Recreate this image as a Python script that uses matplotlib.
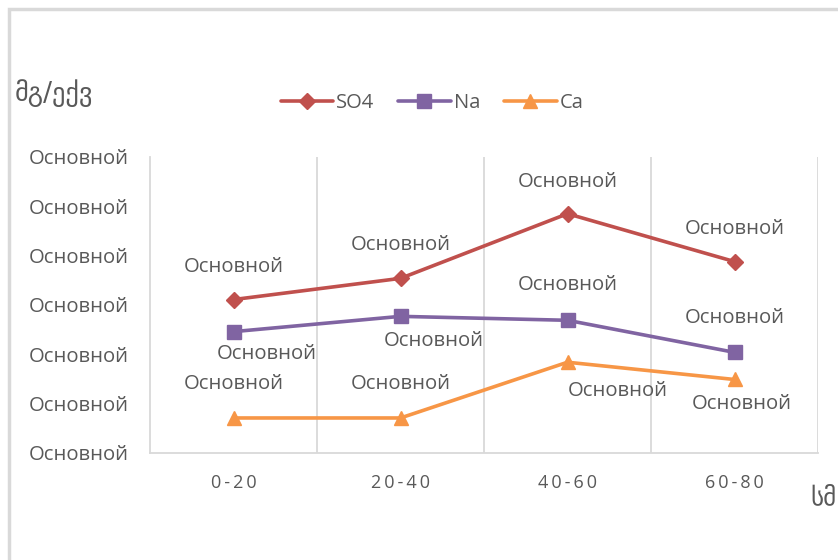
import matplotlib
matplotlib.use("Agg")
import matplotlib.pyplot as plt
from matplotlib.patches import Rectangle
from matplotlib.ticker import FuncFormatter

plt.rcParams['font.family'] = ['Open Sans', 'DejaVu Sans']

depths = ['0-20', '20-40', '40-60', '60-80']
so4 = [3.11, 3.54, 4.85, 3.88]
na = [2.46, 2.77, 2.69, 2.04]
ca = [0.71, 0.71, 1.84, 1.49]
tick_text = 'Основной'

# label offsets in pixels (dx, dy) for each point
so4_off = [(0, 33), (0, 33), (0, 32), (0, 33)]
na_off = [(33, -22), (33, -25), (0, 35), (0, 34)]
ca_off = [(0, 34), (0, 34), (50, -29), (7, -25)]

grey = '#595959'
grid = '#D9D9D9'

fig = plt.figure(figsize=(8.38, 5.6), dpi=100)
fig.patches.append(Rectangle((9/838, -0.1), 1.2, 1.1 - 9/560,
                             transform=fig.transFigure, fill=False,
                             edgecolor='#D9D9D9', lw=2.5))
ax = fig.add_axes([150/838, 1-453/560, 668/838, 296/560])

x = [i + 0.5 for i in range(len(depths))]
series = [
    ('SO4', so4, '#C0504D', 'D', 8, so4_off),
    ('Na', na, '#8064A2', 's', 10, na_off),
    ('Ca', ca, '#F79646', '^', 10, ca_off),
]
for name, vals, col, mk, ms, offs in series:
    ax.plot(x, vals, color=col, lw=2.6, marker=mk, markersize=ms, label=name,
            solid_capstyle='round')
    for xi, v, (dx, dy) in zip(x, vals, offs):
        ax.annotate(tick_text, (xi, v), xytext=(dx, dy), textcoords='offset pixels',
                    ha='center', va='center', fontsize=14.6, color=grey)

# spaced-out category labels
spaced = ['\u2009'.join(d) for d in depths]

ax.set_xlim(0, 4)
ax.set_ylim(0, 6)
ax.set_xticks(x)
ax.set_xticklabels(spaced, fontsize=13, color=grey)
ax.set_yticks(range(7))
ax.yaxis.set_major_formatter(FuncFormatter(lambda v, p: tick_text))
ax.tick_params(axis='y', length=0, pad=15, labelsize=14.6, labelcolor=grey)
ax.tick_params(axis='x', length=0, pad=15)
for xv in [1, 2, 3, 4]:
    ax.axvline(xv, color=grid, lw=1.3, zorder=0)
for s in ['top', 'right']:
    ax.spines[s].set_visible(False)
for s in ['left', 'bottom']:
    ax.spines[s].set_color(grid)
    ax.spines[s].set_linewidth(1.3)

ax.legend(loc='center', bbox_to_anchor=(432/838, 1-103/560),
          bbox_transform=fig.transFigure, ncol=3, frameon=False,
          fontsize=14.5, labelcolor=grey, handlelength=2.6, columnspacing=1.2,
          handletextpad=0.15, borderpad=0)

fig.text(15/838, 1-93/560, 'მგ/ექვ', fontsize=19, color=grey, va='center',
         family=['DejaVu Sans'])
fig.text(810/838, 1-497/560, 'სმ', fontsize=18, color=grey, va='center',
         family=['DejaVu Sans'])

fig.savefig('out.png', dpi=100)
